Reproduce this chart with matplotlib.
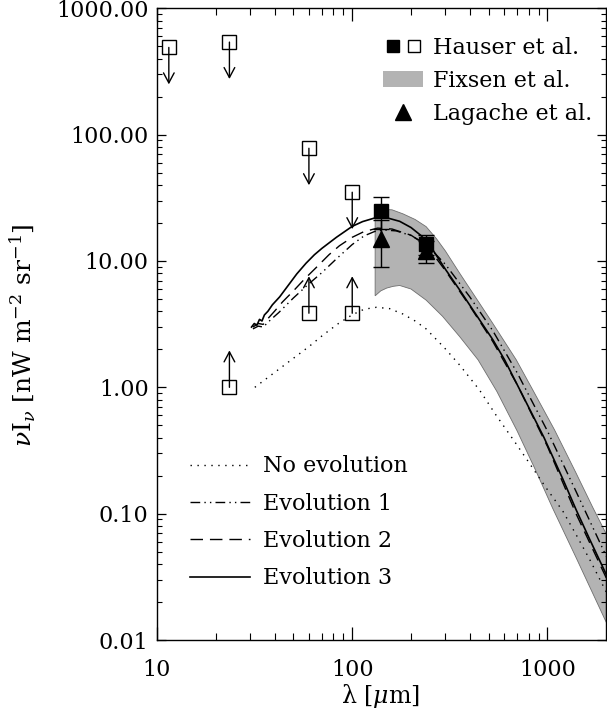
import numpy as np
import matplotlib
matplotlib.use("Agg")
import matplotlib.pyplot as plt
from matplotlib import rcParams
from matplotlib.lines import Line2D
from matplotlib.patches import Patch
from matplotlib.legend_handler import HandlerTuple

rcParams["font.family"] = "DejaVu Serif"
rcParams["mathtext.fontset"] = "dejavuserif"

# ---- data ------------------------------------------------------------------
# Fixsen et al. band (upper / lower edge)
fix_up_x = [131, 140, 160, 182, 210, 239, 270, 300, 355, 420, 525, 692, 842, 1087, 1400, 1706, 2000]
fix_up_y = [25.4, 25.7, 25.4, 23.6, 21.3, 18.7, 15.0, 12.0, 8.0, 5.4, 3.2, 1.65, 0.95, 0.46, 0.21, 0.112, 0.069]
fix_lo_x = [131, 140, 150, 162, 175, 200, 239, 290, 355, 441, 550, 700, 870, 1064, 1400, 2000]
fix_lo_y = [5.3, 5.8, 6.1, 6.3, 6.4, 6.0, 4.9, 3.65, 2.52, 1.65, 0.93, 0.45, 0.22, 0.11, 0.045, 0.0138]

# models
noev_x = [31.7, 40, 48, 60, 71, 85, 100, 115, 133, 155, 182, 210, 239, 297, 355, 449, 546, 680, 809, 984, 1197, 1403, 1650, 2000]
noev_y = [1.0, 1.31, 1.62, 2.1, 2.6, 3.2, 3.75, 4.15, 4.3, 4.2, 3.8, 3.35, 2.9, 2.05, 1.5, 0.95, 0.6, 0.37, 0.25, 0.16, 0.105, 0.068, 0.043, 0.024]

ev1_x = [31, 33, 35, 38, 42, 50, 60, 70, 83, 100, 115, 130, 145, 168, 200, 240, 300, 400, 525, 700, 1000, 1400, 2000]
ev1_y = [2.9, 3.05, 3.0, 3.4, 3.9, 5.1, 6.6, 8.1, 10.4, 13.5, 15.8, 17.1, 17.6, 17.3, 15.9, 13.5, 9.4, 5.2, 2.8, 1.3, 0.45, 0.15, 0.046]

ev2_x = [31, 33, 35, 37, 40, 44, 50, 57, 66, 76, 86, 100, 115, 135, 160, 200, 240, 300, 400, 525, 700, 1000, 1400, 2000]
ev2_y = [3.0, 3.2, 3.15, 3.5, 4.0, 4.75, 5.8, 7.2, 9.0, 11.2, 13.2, 15.4, 17.1, 18.2, 17.9, 16.0, 13.3, 8.4, 4.4, 2.3, 1.05, 0.34, 0.10, 0.031]

ev3_x = [30.5, 31.5, 32.5, 33.5, 34.5, 35.5, 37, 39, 42.5, 52, 58, 64, 70, 83, 100, 113, 133, 150, 175, 200, 225, 249, 300, 355, 450, 525, 603, 750, 960, 1200, 1403, 1650, 2000]
ev3_y = [3.0, 3.2, 3.1, 3.45, 3.35, 3.74, 4.0, 4.5, 5.2, 7.9, 9.6, 11.2, 12.6, 15.4, 18.8, 20.5, 22.1, 22.0, 20.6, 18.4, 15.9, 13.4, 8.6, 5.9, 3.4, 2.38, 1.65, 0.85, 0.40, 0.187, 0.107, 0.062, 0.033]

# Hauser et al.: upper limits, lower limits, detections
hup_x = [11.5, 23.5, 60, 100]
hup_y = [490, 540, 78, 35]
hlo_x = [23.5, 60, 100]
hlo_y = [1.0, 3.86, 3.86]
hdet_x = [140, 240]
hdet_y = [25.0, 13.7]
hdet_err = [7.0, 2.5]

# Lagache et al.
lag_x = [140, 240]
lag_y = [15.0, 12.0]
lag_err = [6.0, 2.4]

yticks = [0.01, 0.1, 1, 10, 100, 1000]
ytick_labels = ["0.01", "0.10", "1.00", "10.00", "100.00", "1000.00"]
xticks = [10, 100, 1000]
xtick_labels = ["10", "100", "1000"]

# ---- plot -------------------------------------------------------------------
fig = plt.figure(figsize=(6.07, 7.09), dpi=100)
ax = fig.add_axes([0.2586, 0.0973, 0.7395, 0.891])
ax.set_xscale("log"); ax.set_yscale("log")
ax.set_xlim(10, 1990); ax.set_ylim(0.01, 1000)

band_col = "#b3b3b3"
ax.fill(fix_up_x + fix_lo_x[::-1], fix_up_y + fix_lo_y[::-1],
        facecolor=band_col, edgecolor="#6e6e6e", linewidth=0.6, zorder=1)

DOT = (1, 4)
DASHDOT = (7, 3, 1, 3, 1, 3)
DASH = (9, 5)
ax.plot(noev_x, noev_y, color="k", lw=1.0, dashes=DOT, zorder=2)
ax.plot(ev1_x, ev1_y, color="k", lw=1.0, dashes=DASHDOT, zorder=2)
ax.plot(ev2_x, ev2_y, color="k", lw=1.0, dashes=DASH, zorder=2)
ax.plot(ev3_x, ev3_y, color="k", lw=1.2, zorder=2)

# limits with arrows (arrow length ~ factor 2 in the plot)
arr = dict(arrowstyle="->,head_length=0.6,head_width=0.32", lw=1.0,
           color="k", mutation_scale=12, shrinkA=0, shrinkB=0)
for x, y in zip(hup_x, hup_y):
    ax.annotate("", xy=(x, y / 1.96), xytext=(x, y), arrowprops=arr, zorder=3)
for x, y in zip(hlo_x, hlo_y):
    ax.annotate("", xy=(x, y * 1.96), xytext=(x, y), arrowprops=arr, zorder=3)
ax.plot(hup_x, hup_y, ls="none", marker="s", ms=9.5, mfc="none", mec="k", mew=1.0, zorder=4)
ax.plot(hlo_x, hlo_y, ls="none", marker="s", ms=9.5, mfc="none", mec="k", mew=1.0, zorder=4)

ax.errorbar(hdet_x, hdet_y, yerr=hdet_err, fmt="s", ms=9.5, color="k",
            ecolor="k", elinewidth=1.0, capsize=5.5, capthick=1.0, zorder=5)
ax.errorbar(lag_x, lag_y, yerr=lag_err, fmt="^", ms=12, color="k",
            ecolor="k", elinewidth=1.0, capsize=5.5, capthick=1.0, zorder=5)

ax.set_xticks(xticks); ax.set_xticklabels(xtick_labels)
ax.set_yticks(yticks); ax.set_yticklabels(ytick_labels)
ax.tick_params(which="both", direction="in", top=True, right=True, labelsize=16)
ax.tick_params(axis="x", which="major", length=9.5, width=0.9, pad=14)
ax.tick_params(axis="x", which="minor", length=5, width=0.8)
ax.tick_params(axis="y", which="major", length=6.5, width=0.9, pad=6)
ax.tick_params(axis="y", which="minor", length=3.6, width=0.8)
for s in ax.spines.values():
    s.set_linewidth(1.0)

ax.set_xlabel(r"λ [$\mu$m]", fontsize=17)
ax.xaxis.set_label_coords(0.497, -0.066)
ax.set_ylabel(r"$\nu$I$_\nu$ [nW m$^{-2}$ sr$^{-1}$]", fontsize=18)
ax.yaxis.set_label_coords(-0.265, 0.483)

# legend for data
h_fill = Line2D([], [], ls="none", marker="s", ms=9, color="k")
h_open = Line2D([], [], ls="none", marker="s", ms=9, mfc="none", mec="k")
h_fix = Patch(facecolor=band_col, edgecolor="none")
h_lag = Line2D([], [], ls="none", marker="^", ms=12, color="k")
leg1 = ax.legend([(h_fill, h_open), h_fix, h_lag],
                 ["Hauser et al.", "Fixsen et al.", "Lagache et al."],
                 handler_map={tuple: HandlerTuple(ndivide=None, pad=0.1)},
                 loc="upper left", bbox_to_anchor=(0.484, 0.969), borderaxespad=0,
                 frameon=False, fontsize=16, handlelength=1.8,
                 handletextpad=0.45, labelspacing=0.5)
ax.add_artist(leg1)

# legend for models
m_h = [Line2D([], [], color="k", lw=1.0, dashes=DOT),
       Line2D([], [], color="k", lw=1.0, dashes=DASHDOT),
       Line2D([], [], color="k", lw=1.0, dashes=DASH),
       Line2D([], [], color="k", lw=1.2)]
ax.legend(m_h, ["No evolution", "Evolution 1", "Evolution 2", "Evolution 3"],
          loc="lower left", bbox_to_anchor=(0.0535, 0.066), borderaxespad=0,
          frameon=False, fontsize=16, handlelength=2.7, handletextpad=0.6,
          labelspacing=0.69)

fig.savefig("out.png", dpi=100)
